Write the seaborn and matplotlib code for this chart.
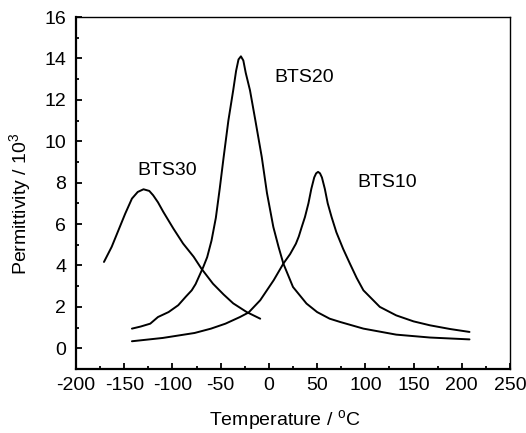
import numpy as np
import pandas as pd
import matplotlib
matplotlib.use("Agg")
import matplotlib.pyplot as plt
import seaborn as sns
from matplotlib.ticker import MultipleLocator

# ---- data (temperature in C, permittivity / 10^3) ----
bts10_t = [-142, -110, -77, -60, -45, -30, -21, -9, 5, 15, 22, 25, 28, 31, 34, 37.4,
           41, 44, 47, 49, 51, 53, 55, 58, 61, 65, 70, 77, 84, 91, 98, 115, 132, 150, 167, 188, 208]
bts10_e = [0.34, 0.5, 0.74, 0.95, 1.19, 1.51, 1.73, 2.32, 3.29, 4.09, 4.55, 4.8, 5.05, 5.4, 5.85, 6.34,
           7.0, 7.7, 8.25, 8.45, 8.52, 8.45, 8.25, 7.7, 7.0, 6.34, 5.6, 4.8, 4.09, 3.4, 2.8, 2.0,
           1.59, 1.3, 1.11, 0.93, 0.79]

bts20_t = [-142, -133, -123, -115, -104, -94, -86, -80, -76, -68, -64, -59.5, -55, -51,
           -47, -42, -37, -34, -31.5, -29, -26.5, -24, -19.6, -14, -7.4, -2, 4.6, 10, 15, 25, 39,
           50, 63, 74, 98, 132, 167, 208]
bts20_e = [0.95, 1.05, 1.19, 1.51, 1.75, 2.08, 2.5, 2.8, 3.1, 3.93, 4.4, 5.2, 6.3, 7.7,
           9.2, 11.0, 12.46, 13.4, 13.95, 14.1, 13.9, 13.3, 12.46, 11.0, 9.24, 7.5, 5.86, 4.9, 4.09,
           2.96, 2.16, 1.75, 1.43, 1.27, 0.95, 0.66, 0.52, 0.43]

bts30_t = [-171, -163, -156, -149, -142, -136, -130, -124, -120, -115, -109.5, -99,
           -89, -78, -70, -58, -47, -37, -23, -9]
bts30_e = [4.17, 4.9, 5.7, 6.5, 7.23, 7.55, 7.68, 7.6, 7.39, 7.05, 6.59, 5.78,
           5.06, 4.42, 3.85, 3.12, 2.6, 2.17, 1.75, 1.43]

series = {"BTS10": (bts10_t, bts10_e), "BTS20": (bts20_t, bts20_e), "BTS30": (bts30_t, bts30_e)}
label_pos = {"BTS30": (-105, 8.6), "BTS20": (37, 13.1), "BTS10": (123, 8.0)}

sns.set_theme(style="ticks")
plt.rcParams["font.family"] = ["Liberation Sans", "DejaVu Sans"]
plt.rcParams["mathtext.default"] = "regular"
plt.rcParams["axes.unicode_minus"] = False
plt.rcParams["lines.solid_joinstyle"] = "round"

fig, ax = plt.subplots(figsize=(5.26, 4.33), dpi=100)
fig.subplots_adjust(left=76/526, right=510/526, top=1-17/433, bottom=1-369/433)

for name, (t, e) in series.items():
    df = pd.DataFrame({"T": t, "eps": e})
    sns.lineplot(data=df, x="T", y="eps", ax=ax, color="black", linewidth=1.4,
                 sort=False, estimator=None)

for name, (x, y) in label_pos.items():
    ax.text(x, y, name, ha="center", va="center", fontsize=14, color="black")

ax.set_xlim(-200, 250)
ax.set_ylim(-1, 16)
ax.xaxis.set_major_locator(MultipleLocator(50))
ax.xaxis.set_minor_locator(MultipleLocator(25))
ax.set_yticks(np.arange(0, 17, 2))
ax.yaxis.set_minor_locator(MultipleLocator(1))
ax.tick_params(which="both", direction="in", top=False, right=False, labelsize=14,
               color="black", labelcolor="black")
ax.tick_params(which="major", length=4.5, width=1.3)
ax.tick_params(which="minor", length=2.5, width=1.3)
ax.tick_params(axis="x", pad=6)
ax.tick_params(axis="y", pad=7)

for side in ["left", "bottom"]:
    ax.spines[side].set_linewidth(1.6)
for side in ["top", "right"]:
    ax.spines[side].set_visible(True)
    ax.spines[side].set_linewidth(1.0)
for s in ax.spines.values():
    s.set_color("black")

ax.set_xlabel("Temperature / $^{o}$C", fontsize=14, color="black")
ax.set_ylabel("Permittivity / 10$^{3}$", fontsize=14, color="black")
ax.xaxis.set_label_coords(0.48, -0.112)
ax.yaxis.set_label_coords(-0.099, 0.469)

fig.savefig("out.png", dpi=100)
